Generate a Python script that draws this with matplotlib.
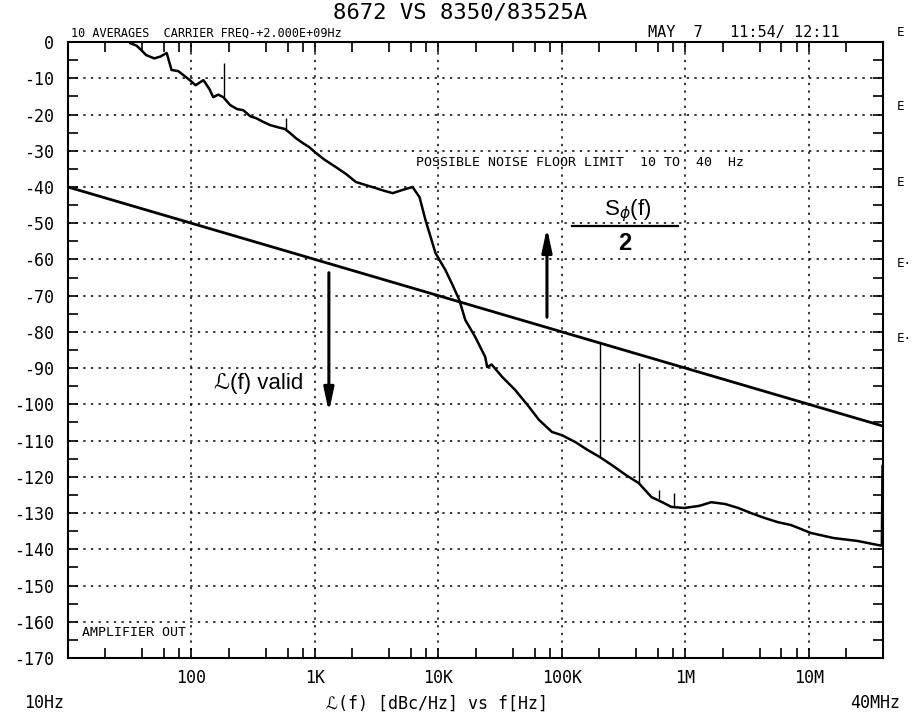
import matplotlib.pyplot as plt
from matplotlib.ticker import FixedLocator, NullFormatter

# phase noise trace (Hz, dBc/Hz)
freq = [32, 36, 40, 43, 50, 56, 63, 69, 78, 86, 97, 108, 125, 140, 150, 165, 181,
        206, 235, 263, 300, 334, 380, 433, 500, 573, 629, 700, 800, 900, 1018, 1200,
        1477, 1800, 2142, 2600, 3105, 3600, 4259, 5128, 6170, 7030, 7857, 9460,
        11380, 13000, 14760, 16510, 19870, 23930, 24830, 27000, 32800, 41780,
        54200, 65300, 83000, 100000, 130000, 160000, 202000, 260000, 330000,
        418000, 532000, 650000, 771000, 982000, 1.3e6, 1.62e6, 2.1e6, 2.68e6,
        3.4e6, 4.33e6, 5.6e6, 7.16e6, 1.04e7, 1.59e7, 2.48e7, 3.6e7, 3.9e7, 3.95e7]
level = [-0.3, -1.0, -2.5, -3.6, -4.5, -4.0, -3.0, -7.7, -8.0, -9.1, -10.5, -11.9,
         -10.5, -13.0, -15.2, -14.5, -15.2, -17.4, -18.5, -18.8, -20.5, -21.0,
         -22.0, -22.9, -23.5, -24.0, -25.1, -26.5, -27.9, -29.0, -30.6, -32.5,
         -34.5, -36.5, -38.6, -39.5, -40.3, -41.0, -41.7, -40.8, -40.0, -42.8,
         -49.1, -58.2, -62.9, -67.0, -71.2, -76.7, -81.4, -86.9, -89.7, -89.0,
         -92.4, -96.0, -100.7, -104.3, -107.6, -108.5, -110.5, -112.5, -114.5,
         -117.0, -119.5, -121.7, -125.6, -127.0, -128.3, -128.6, -128.0, -127.0,
         -127.5, -128.6, -130.0, -131.3, -132.5, -133.3, -135.5, -136.9, -137.7,
         -138.8, -139.0, -117.0]

# spurs
spur_f = [184, 583, 205000, 418000, 606000, 815000]
spur_base = [-15.2, -24.5, -114.5, -121.7, -126.0, -128.3]
spur_top = [-5.8, -21.0, -83.0, -88.6, -123.6, -124.4]

# -10 dB/decade boundary line
bound_f = [10, 40e6]
bound_db = [-40, -106]

y_ticks = [0, -10, -20, -30, -40, -50, -60, -70, -80, -90, -100, -110, -120,
           -130, -140, -150, -160, -170]
y_labels = ['0', '-10', '-20', '-30', '-40', '-50', '-60', '-70', '-80', '-90',
            '-100', '-110', '-120', '-130', '-140', '-150', '-160', '-170']
x_ticks = [100, 1e3, 1e4, 1e5, 1e6, 1e7]
x_labels = ['100', '1K', '10K', '100K', '1M', '10M']

mono = ['DejaVu Sans Mono', 'DejaVu Sans']
sans = ['Liberation Sans', 'DejaVu Sans']

fig = plt.figure(figsize=(9.16, 7.17), dpi=100)
ax = fig.add_axes([0.0742, 0.0823, 0.890, 0.859])

ax.semilogx(freq, level, color='black', lw=1.8)
ax.vlines(spur_f, spur_base, spur_top, color='black', lw=1.0)
ax.plot(bound_f, bound_db, color='black', lw=2.0)

ax.set_xlim(10, 40e6)
ax.set_ylim(-170, 0)

# grid only at decades / every 10 dB
for xv in x_ticks:
    ax.axvline(xv, color='black', lw=1.1, ls=(0, (1.5, 3.5)), zorder=0)
for yv in y_ticks[1:-1]:
    ax.axhline(yv, color='black', lw=1.1, ls=(0, (1.5, 3.5)), zorder=0)

minor_x = []
for dec in [10, 100, 1e3, 1e4, 1e5, 1e6]:
    for m in [2, 4, 6, 8]:
        minor_x.append(m * dec)
minor_x.append(2e7)
ax.xaxis.set_major_locator(FixedLocator(x_ticks))
ax.xaxis.set_minor_locator(FixedLocator(minor_x))
ax.xaxis.set_minor_formatter(NullFormatter())
ax.set_xticklabels(x_labels, fontfamily=mono, fontsize=12)
ax.yaxis.set_major_locator(FixedLocator(y_ticks))
ax.yaxis.set_minor_locator(FixedLocator([v - 5 for v in y_ticks[:-1]]))
ax.set_yticklabels(y_labels, fontfamily=mono, fontsize=12)
ax.tick_params(which='both', direction='in', top=True, right=True, length=7, width=1.2)
ax.tick_params(axis='y', pad=10)
ax.tick_params(axis='x', pad=8)
for s in ax.spines.values():
    s.set_linewidth(1.5)

# hand annotations
ax.annotate('', xy=(75700, -50.5), xytext=(75700, -76.7),
            arrowprops=dict(arrowstyle='-|>,head_length=1.4,head_width=0.3',
                            color='black', lw=2.2))
ax.annotate('', xy=(1297, -102.9), xytext=(1297, -62.9),
            arrowprops=dict(arrowstyle='-|>,head_length=1.4,head_width=0.3',
                            color='black', lw=2.2))
ax.text(340000, -46.5, r'S$_\phi$(f)', fontfamily=sans, fontsize=16,
        ha='center', va='center')
ax.plot([120000, 879000], [-50.8, -50.8], color='black', lw=1.6)
ax.text(322000, -55.5, '2', fontfamily=sans, fontsize=17, fontweight='bold',
        ha='center', va='center')
ax.text(347, -94.1, 'ℒ(f) valid', fontfamily=sans, fontsize=16,
        ha='center', va='center')
ax.text(6530, -33.1, 'POSSIBLE NOISE FLOOR LIMIT  10 TO  40  Hz', fontfamily=mono,
        fontsize=9.5, ha='left', va='center')
ax.text(13, -163, 'AMPLIFIER OUT', fontfamily=mono, fontsize=9.5, ha='left', va='center')

# plotter header / footer
fig.text(0.502, 0.983, '8672 VS 8350/83525A', fontfamily=mono, fontsize=16,
         ha='center', va='center')
fig.text(0.077, 0.954, '10 AVERAGES  CARRIER FREQ-+2.000E+09Hz', fontfamily=mono,
         fontsize=8.5, ha='left', va='center')
fig.text(0.917, 0.954, 'MAY  7   11:54/ 12:11', fontfamily=mono, fontsize=11,
         ha='right', va='center')
fig.text(0.048, 0.019, '10Hz', fontfamily=mono, fontsize=12, ha='center', va='center')
fig.text(0.955, 0.019, '40MHz', fontfamily=mono, fontsize=12, ha='center', va='center')
fig.text(0.477, 0.019, 'ℒ(f) [dBc/Hz] vs f[Hz]', fontfamily=mono, fontsize=12,
         ha='center', va='center')
for yy, s in zip([0.954, 0.851, 0.745, 0.633, 0.528], ['E', 'E', 'E', 'E·', 'E·']):
    fig.text(0.979, yy, s, fontfamily=mono, fontsize=9, ha='left', va='center')

fig.savefig('out.png', dpi=100)
